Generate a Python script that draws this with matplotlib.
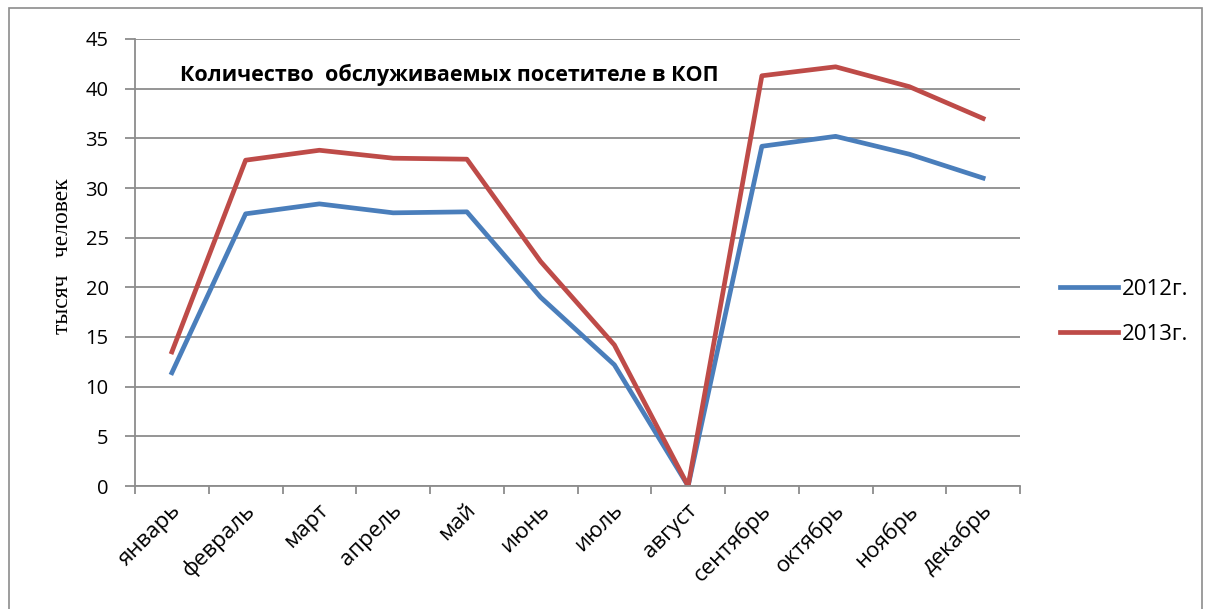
import matplotlib
matplotlib.use("Agg")
import matplotlib.pyplot as plt
from matplotlib.patches import Rectangle
from matplotlib.transforms import ScaledTranslation
import numpy as np

months = ["январь", "февраль", "март", "апрель", "май", "июнь", "июль",
          "август", "сентябрь", "октябрь", "ноябрь", "декабрь"]
v2012 = [11.4, 27.4, 28.4, 27.5, 27.6, 19.0, 12.2, 0.0, 34.2, 35.2, 33.4, 31.0]
v2013 = [13.5, 32.8, 33.8, 33.0, 32.9, 22.6, 14.2, 0.0, 41.3, 42.2, 40.2, 37.0]
series_names = ["2012г.", "2013г."]
yticks = [0, 5, 10, 15, 20, 25, 30, 35, 40, 45]

fig = plt.figure(figsize=(12.06, 6.09), dpi=100)
fig.patches.append(Rectangle((9/1206, -0.05), (1202-9)/1206, 1 - 8/609 + 0.05,
                             transform=fig.transFigure, fill=False,
                             edgecolor="#8c8c8c", linewidth=1.2))
ax = fig.add_axes([135/1206, 1-486/609, (1020-135)/1206, (486-39)/609])

x = np.arange(len(months))
ax.plot(x, v2012, color="#4A7EBB", lw=3.4, label=series_names[0])
ax.plot(x, v2013, color="#BE4B48", lw=3.4, label=series_names[1])

ax.set_xlim(-0.5, len(months) - 0.5)
ax.set_ylim(0, 45)
ax.set_yticks(yticks)
ax.set_yticklabels([str(t) for t in yticks], fontsize=14.5, family="Open Sans")
ax.yaxis.grid(True, color="#8c8c8c", lw=1.3)
ax.set_axisbelow(True)
for s in ["top", "right"]:
    ax.spines[s].set_visible(False)
for s in ["left", "bottom"]:
    ax.spines[s].set_color("#8c8c8c")
    ax.spines[s].set_linewidth(1.3)
ax.tick_params(axis="y", length=7, color="#8c8c8c", width=1.3, pad=12)

ax.set_xticks(np.arange(-0.5, len(months)), minor=False)
ax.set_xticklabels([])
ax.tick_params(axis="x", which="major", length=6, color="#8c8c8c", width=1.3)
ax.set_xticks(x, minor=True)
ax.set_xticklabels(months, minor=True, rotation=45, ha="right", va="top",
                   rotation_mode="anchor", fontsize=16, family="Open Sans")
ax.tick_params(axis="x", which="minor", length=0, pad=10)
off = ScaledTranslation(-2/100, 0, fig.dpi_scale_trans)
for lab in ax.get_xticklabels(minor=True):
    lab.set_transform(lab.get_transform() + off)

fig.text(62/1206, 1-256/609, "тысяч   человек", family="Liberation Serif",
         fontsize=17, rotation=90, ha="center", va="center")

fig.text(180/1206, 1-75/609, "Количество  обслуживаемых посетителе в КОП",
         fontsize=15.5, fontweight="bold", family="Open Sans", va="center", ha="left")

leg = fig.legend(loc="center left", bbox_to_anchor=(1040/1206, 1-312/609),
                 frameon=False, handlelength=2.6,
                 labelspacing=1.1, handletextpad=0.2,
                 prop={"family": "Open Sans", "size": 16})

fig.savefig("out.png", dpi=100)
